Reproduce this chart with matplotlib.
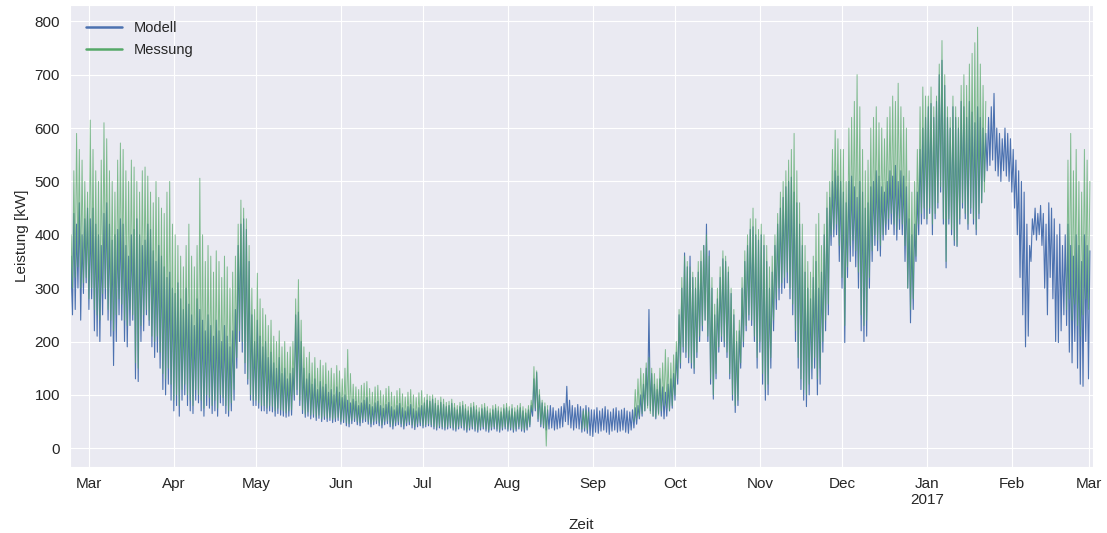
import numpy as np
import pandas as pd
import matplotlib
matplotlib.use("Agg")
import matplotlib.pyplot as plt
import matplotlib.dates as mdates
import seaborn as sns

nan = np.nan

# daily high / low of the hourly series, starting 2016-02-23
# Modell
model_hi = [
    360, 440, 420, 460, 400, 430, 450,  # Feb
    430, 450, 420, 400, 380, 440, 460, 420, 390, 400, 410, 430, 420, 380, 360, 400,
    410, 430, 400, 380, 390, 420, 410, 370, 350, 380, 360, 340, 320, 330, 300,  # Mar
    290, 310, 280, 260, 300, 270, 250, 230, 280, 260, 240, 220, 250, 230, 210, 240,
    220, 200, 230, 210, 190, 220, 260, 380, 420, 430, 410, 350, 250, 200,  # Apr
    240, 210, 190, 200, 170, 180, 160, 150, 170, 140, 150, 130, 140, 150, 250, 255,
    200, 150, 130, 140, 120, 130, 110, 125, 115, 120, 105, 110, 100, 115, 105,  # May
    95, 100, 90, 85, 92, 88, 80, 85, 90, 95, 82, 78, 85, 88, 80, 75, 82, 86, 78, 72,
    80, 84, 76, 70, 78, 82, 74, 70, 76, 80,  # Jun
    85, 90, 88, 92, 84, 80, 86, 82, 78, 80, 84, 76, 72, 78, 80, 74, 70, 76, 78, 72,
    68, 74, 76, 70, 66, 72, 75, 70, 68, 74, 76,  # Jul
    70, 74, 68, 72, 76, 70, 66, 72, 80, 130, 142, 100, 85, 78, 72, 80, 76, 70, 74, 78,
    84, 116, 90, 80, 76, 82, 78, 74, 80, 76, 72,  # Aug
    72, 76, 70, 74, 78, 72, 68, 74, 76, 70, 72, 75, 70, 68, 72, 76, 80, 100, 120, 150,
    260, 140, 120, 110, 130, 115, 105, 120, 130, 140,  # Sep
    180, 250, 300, 366, 340, 360, 320, 300, 330, 350, 380, 420, 370, 300, 250, 280,
    320, 355, 350, 330, 290, 250, 200, 220, 300, 350, 380, 410, 415, 400, 390,  # Oct
    400, 380, 350, 300, 330, 380, 420, 450, 470, 490, 500, 508, 480, 460, 420, 380,
    330, 300, 280, 320, 350, 300, 330, 400, 450, 470, 500, 520, 510, 500,  # Nov
    480, 460, 500, 510, 490, 470, 500, 480, 450, 460, 490, 500, 520, 510, 490, 480,
    500, 520, 510, 530, 500, 520, 510, 490, 430, 400, 420, 480, 560, 600, 620,  # Dec
    640, 646, 620, 650, 700, 727, 680, 620, 600, 640, 620, 600, 650, 640, 620, 650,
    630, 610, 640, 620, 600, 590, 620, 640, 665, 600, 590, 580, 600, 590, 580,  # Jan
    560, 540, 520, 500, 480, 420, 380, 430, 450, 440, 455, 440, 420, 460, 450, 430,
    400, 420, 380, 400, 420, 380, 360, 400, 380, 350, 400, 380,  # Feb
    370,  # Mar
]
model_lo = [
    150, 250, 260, 300, 240, 290, 310,
    260, 280, 220, 210, 200, 250, 280, 240, 210, 155, 200, 250, 240, 200, 190, 230,
    240, 130, 125, 200, 220, 250, 230, 190, 170, 180, 150, 110, 100, 120, 90,
    70, 80, 60, 90, 100, 80, 70, 65, 90, 85, 70, 60, 80, 75, 65, 70,
    60, 85, 80, 65, 60, 70, 90, 150, 200, 180, 140, 120, 90, 80,
    80, 75, 70, 70, 65, 70, 68, 60, 65, 62, 60, 58, 60, 62, 90, 100,
    80, 65, 58, 60, 55, 58, 52, 56, 50, 54, 50, 52, 48, 50, 52,
    45, 48, 42, 40, 46, 50, 44, 42, 48, 50, 45, 40, 44, 46, 42, 38, 44, 46, 40, 36,
    42, 44, 40, 36, 42, 44, 38, 35, 40, 42,
    38, 40, 42, 40, 36, 34, 38, 36, 34, 36, 38, 34, 32, 36, 38, 34, 30, 34, 36, 32,
    30, 34, 36, 32, 30, 34, 36, 32, 30, 34, 36,
    32, 34, 30, 32, 36, 32, 30, 34, 40, 60, 70, 50, 40, 38, 34, 36, 38, 34, 36, 38,
    40, 50, 44, 38, 34, 38, 36, 30, 32, 28, 24,
    22, 30, 28, 32, 34, 30, 26, 32, 34, 30, 32, 34, 30, 28, 34, 38, 45, 55, 60, 70,
    80, 70, 60, 55, 65, 60, 55, 60, 70, 75,
    90, 120, 150, 180, 170, 160, 150, 140, 170, 200, 220, 240, 200, 120, 92, 130,
    180, 200, 190, 170, 130, 90, 67, 80, 150, 190, 220, 240, 230, 200, 150,
    180, 120, 90, 100, 150, 220, 260, 278, 290, 300, 310, 280, 250, 200, 150, 110,
    90, 78, 100, 130, 150, 100, 120, 180, 220, 250, 380, 396, 400, 350,
    300, 198, 320, 350, 360, 340, 300, 220, 200, 210, 300, 350, 380, 370, 360, 390,
    400, 410, 420, 400, 390, 410, 400, 350, 300, 235, 260, 350, 400, 420, 430,
    420, 440, 400, 430, 450, 480, 420, 338, 420, 400, 380, 378, 420, 450, 430, 410,
    440, 420, 400, 430, 460, 500, 520, 530, 540, 520, 510, 500, 520, 510, 500,
    480, 450, 400, 320, 250, 190, 210, 350, 400, 390, 400, 380, 300, 250, 320, 280,
    200, 198, 220, 250, 230, 180, 160, 200, 150, 120, 116, 200,
    130,
]

# Messung (gaps where no measurement exists)
meas_hi = [
    400, 520, 590, 560, 540, 500, 480,
    615, 560, 520, 500, 540, 610, 580, 520, 500, 480, 540, 572, 560, 520, 500, 540,
    527, 500, 480, 520, 527, 510, 480, 460, 500, 470, 450, 440, 480, 500, 420,
    400, 380, 360, 340, 380, 420, 360, 340, 380, 506, 400, 350, 380, 360, 330, 370,
    350, 320, 360, 340, 300, 330, 360, 420, 465, 450, 430, 380, 300, 260,
    328, 280, 262, 250, 230, 240, 210, 200, 220, 190, 200, 180, 190, 200, 280, 316,
    240, 190, 170, 180, 160, 170, 150, 165, 155, 160, 145, 150, 140, 155, 145,
    130, 150, 185, 140, 120, 115, 110, 118, 122, 125, 112, 105, 115, 118, 108, 100,
    112, 116, 105, 98, 108, 112, 102, 96, 105, 110, 100, 95, 104, 108,
    95, 101, 98, 100, 94, 90, 96, 92, 86, 88, 92, 84, 80, 86, 88, 82, 78, 84, 86, 80,
    76, 82, 84, 78, 74, 80, 82, 78, 76, 82, 84,
    78, 82, 76, 80, 84, 78, 74, 80, 90, 153, 145, 110, 90, 85, 80,
    nan, nan, nan, nan, nan, nan, nan, nan, nan, nan, nan, nan, 70, 72, 68, nan,
    nan, nan, nan, nan, nan, nan, nan, nan, nan, nan, nan, nan, nan, nan, nan,
    110, 130, 150, 140, 160, 170, 150, 140, 130, 150, 160, 185, 170, 160, 175,
    200, 260, 320, 360, 350, 340, 330, 320, 350, 370, 380, 400, 360, 320, 270, 300,
    340, 370, 360, 340, 300, 260, 220, 240, 320, 370, 400, 430, 450, 430, 410,
    420, 400, 380, 340, 360, 400, 440, 480, 500, 520, 540, 560, 590, 520, 460, 420,
    380, 350, 330, 360, 420, 440, 380, 420, 480, 500, 560, 596, 580, 560,
    560, 500, 600, 620, 650, 700, 640, 560, 520, 540, 600, 620, 640, 610, 600, 580,
    620, 640, 660, 650, 684, 640, 620, 600, 520, 480, 500, 560, 640, 677, 660,
    660, 677, 640, 660, 720, 764, 700, 640, 620, 660, 640, 620, 680, 700, 680, 720,
    740, 760, 789, 720, 680, 650, nan, nan, nan, nan, nan, nan, nan, nan, nan,
    nan, nan, nan, nan, nan, nan, nan, nan, nan, nan, nan, nan, nan, nan, nan, nan,
    nan, nan, nan, nan, 540, 590, 520, 560, 500, 480, 560, 540,
    500,
]
meas_lo = [
    200, 300, 320, 340, 300, 310, 320,
    280, 300, 260, 250, 240, 290, 300, 260, 240, 220, 250, 280, 270, 240, 230, 260,
    250, 160, 150, 230, 250, 260, 240, 210, 200, 210, 180, 140, 130, 150, 120,
    90, 100, 80, 110, 120, 100, 90, 80, 110, 100, 90, 75, 100, 95, 80, 90,
    75, 100, 95, 80, 70, 85, 110, 170, 220, 200, 160, 130, 100, 90,
    90, 85, 80, 80, 75, 80, 78, 70, 75, 72, 70, 66, 70, 72, 100, 110,
    90, 72, 64, 68, 62, 64, 58, 62, 56, 60, 56, 58, 54, 56, 58,
    50, 54, 48, 46, 52, 56, 50, 48, 54, 56, 50, 46, 50, 52, 48, 44,
    50, 52, 46, 42, 48, 50, 46, 42, 48, 50, 44, 40, 46, 48,
    42, 44, 46, 44, 40, 38, 42, 40, 38, 40, 42, 38, 36, 40, 42, 38, 34, 38, 40, 36,
    34, 38, 40, 36, 34, 38, 40, 36, 34, 38, 40,
    36, 38, 34, 36, 40, 36, 34, 38, 44, 70, 75, 55, 45, 40, 4,
    nan, nan, nan, nan, nan, nan, nan, nan, nan, nan, nan, nan, 36, 38, 34, nan,
    nan, nan, nan, nan, nan, nan, nan, nan, nan, nan, nan, nan, nan, nan, nan,
    50, 55, 60, 65, 70, 75, 65, 60, 58, 62, 70, 80, 75, 70, 80,
    100, 130, 160, 190, 180, 170, 160, 150, 180, 210, 230, 240, 210, 130, 100, 140,
    190, 210, 200, 180, 140, 100, 80, 90, 160, 200, 230, 250, 240, 210, 170,
    200, 140, 110, 120, 170, 240, 280, 300, 310, 320, 330, 300, 270, 220, 170, 130,
    110, 100, 120, 150, 170, 130, 150, 200, 240, 270, 400, 410, 420, 380,
    320, 230, 340, 380, 390, 370, 330, 250, 230, 240, 320, 370, 400, 390, 380, 400,
    420, 430, 440, 420, 410, 430, 420, 380, 300, 260, 280, 360, 420, 440, 450,
    430, 450, 420, 440, 460, 490, 430, 350, 430, 410, 390, 380, 430, 460, 440, 420,
    450, 430, 410, 440, 460, 480, nan, nan, nan, nan, nan, nan, nan, nan, nan,
    nan, nan, nan, nan, nan, nan, nan, nan, nan, nan, nan, nan, nan, nan, nan, nan,
    nan, nan, nan, nan, 260, 280, 240, 270, 230, 210, 250, 280,
    260,
]

start = "2016-02-23"


def half_daily(lo, hi):
    vals = np.column_stack([lo, hi]).ravel().astype(float)
    idx = pd.date_range(start, periods=len(vals), freq="12h")
    return pd.Series(vals, index=idx)


modell = half_daily(model_lo, model_hi)
messung = half_daily(meas_lo, meas_hi)

sns.set_style("darkgrid")
plt.rcParams["font.family"] = ["Liberation Sans", "DejaVu Sans"]

fig = plt.figure(figsize=(11.07, 5.33), dpi=100)
ax = fig.add_axes([0.063, 0.124, 0.924, 0.866])

ax.plot(modell.index, modell.values, color="#4C72B0", lw=0.8, label="Modell")
ax.plot(messung.index, messung.values, color="#55A868", lw=0.7, alpha=0.72,
        label="Messung")

ax.set_xlim(pd.Timestamp("2016-02-23"), pd.Timestamp("2017-03-02 12:00"))
ax.set_ylim(-35, 830)
ax.set_yticks(range(0, 801, 100))

ax.xaxis.set_major_locator(mdates.MonthLocator())


def month_fmt(x, pos=None):
    d = mdates.num2date(x)
    s = d.strftime("%b")
    if d.month == 1:
        s += "\n%d" % d.year
    return s


ax.xaxis.set_major_formatter(plt.FuncFormatter(month_fmt))
ax.tick_params(labelsize=11)
for t in ax.get_xticklabels():
    t.set_linespacing(1.25)
ax.set_xlabel("Zeit", fontsize=11, labelpad=8)
ax.set_ylabel("Leistung [kW]", fontsize=11)

leg = ax.legend(loc="upper left", fontsize=10.5, frameon=False,
                handlelength=2.5, borderaxespad=0.7)
for line in leg.get_lines():
    line.set_linewidth(1.8)
    line.set_alpha(1)

fig.savefig("out.png", dpi=100)
